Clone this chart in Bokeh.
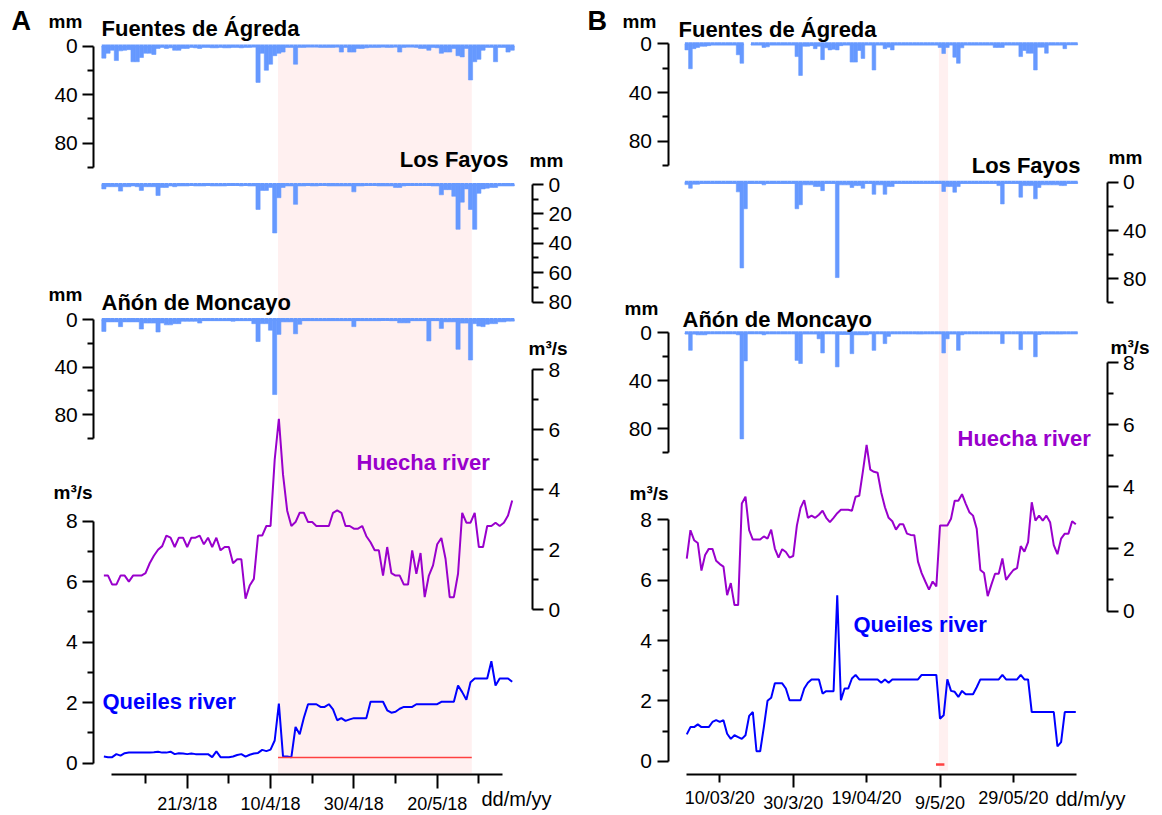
import numpy as np
from bokeh.plotting import figure
from bokeh.models import Range1d, LinearAxis, FixedTicker, Label, Grid
from bokeh.layouts import row
from bokeh.embed import file_html
from bokeh.resources import INLINE

# ---------------- DATA ----------------
# Panel A: daily values from 1 March 2018 (day 0) to 7 June 2018 (day 98)
days_a = list(range(99))
fuentes_a = [10, 6, 3.5, 12, 4, 3.5, 3, 13, 13, 9.5,
             6, 6, 7, 2, 1, 2, 1.5, 3.5, 3.5, 2,
             2, 1, 1.5, 2, 1, 1, 1.5, 1.5, 1, 1.5,
             1.5, 1, 1, 1.5, 1, 1, 0.5, 30, 6, 20,
             15, 8, 6, 5, 1, 1, 15, 1, 1, 0.5,
             0.5, 0.5, 1, 1, 1, 1, 0.5, 5, 1, 5,
             5, 2, 2, 1.5, 1, 1, 1, 0.5, 1, 1,
             0.5, 5, 1, 0.5, 0.5, 1, 2, 2, 3.5, 1,
             1.5, 6, 5, 5, 2, 8, 9, 2, 28, 13,
             11, 3.5, 1, 1, 13, 1, 1, 5, 3.5]
losfayos_a = [3, 1.5, 1.5, 1.5, 4.5, 1.5, 1.5, 1, 1.5, 4,
              1.5, 1.5, 1.5, 7.5, 2, 2, 1, 1.5, 1, 1,
              1, 0.5, 1, 1, 1, 0.5, 1, 1, 1, 1,
              0.5, 0.5, 0.5, 1, 0.5, 1, 1, 17, 4, 4,
              2, 33, 9, 2, 1, 1, 13.5, 1, 1, 0.5,
              1, 1, 0.5, 0.5, 1, 1, 1, 1, 1, 1,
              5, 1, 1, 0.5, 0.5, 0.5, 1, 1, 1, 1,
              2, 2, 1, 0.5, 0.5, 0.5, 0.5, 0.5, 0.5, 1,
              1, 7, 3.5, 3.5, 8, 30.5, 12, 3, 17, 30.5,
              6, 3, 2.5, 2, 2, 1, 1, 1, 1]
anon_a = [10, 2, 2, 2, 6, 2, 2, 2, 2, 8,
          3, 3, 3, 10.5, 3, 4.5, 4.5, 3.5, 3.5, 1.5,
          1.5, 1.5, 1.5, 3, 1, 1, 1, 1, 1, 1,
          1, 1.5, 1, 1, 1, 1, 3.5, 18.5, 3.5, 3.5,
          9, 63, 12.5, 2, 2, 2, 12, 4, 1, 1,
          1, 1, 1, 1, 1, 1, 1, 1, 1, 1,
          6, 1, 1, 1, 1, 1, 1, 0.5, 0.5, 1,
          1, 2.8, 2.8, 2.8, 1, 1, 1, 1, 18, 1,
          1, 7.5, 2, 2, 2, 25, 3, 3, 34, 3.5,
          5.5, 6, 4, 3.5, 3.5, 2, 2, 1.4, 1.4]
huecha_a = [1.14, 1.14, 0.84, 0.84, 1.14, 1.14, 0.94, 1.14, 1.14, 1.14,
            1.22, 1.55, 1.80, 2.00, 2.12, 2.47, 2.40, 2.09, 2.40, 2.40,
            2.09, 2.40, 2.40, 2.47, 2.18, 2.40, 2.09, 2.40, 1.98, 2.09,
            2.09, 1.55, 1.68, 1.68, 0.37, 0.81, 1.03, 2.47, 2.47, 2.79,
            2.79, 5.00, 6.36, 4.50, 3.30, 2.79, 2.92, 3.23, 3.23, 2.92,
            2.92, 2.79, 2.79, 2.79, 2.79, 3.23, 3.31, 3.23, 2.79, 2.79,
            2.70, 2.70, 2.79, 2.45, 2.25, 1.98, 1.98, 1.14, 2.09, 1.22,
            1.14, 1.14, 0.84, 0.84, 1.98, 1.20, 1.89, 0.42, 1.14, 1.48,
            2.18, 2.39, 1.70, 0.42, 0.42, 1.20, 3.23, 2.90, 2.90, 3.23,
            2.09, 2.09, 2.79, 2.79, 2.90, 2.79, 2.90, 3.14, 3.64]
queiles_a = [0.22, 0.20, 0.20, 0.30, 0.25, 0.33, 0.35, 0.35, 0.35, 0.35,
             0.35, 0.35, 0.36, 0.38, 0.35, 0.35, 0.38, 0.30, 0.33, 0.32,
             0.30, 0.32, 0.30, 0.30, 0.30, 0.30, 0.20, 0.39, 0.20, 0.20,
             0.20, 0.22, 0.27, 0.30, 0.22, 0.28, 0.32, 0.34, 0.44, 0.40,
             0.45, 0.75, 1.97, 0.22, 0.22, 0.20, 1.20, 0.96, 1.50, 1.95,
             1.95, 1.95, 1.86, 1.86, 1.95, 1.78, 1.42, 1.49, 1.40, 1.45,
             1.49, 1.49, 1.49, 1.49, 2.03, 2.03, 2.03, 2.03, 1.75, 1.67,
             1.70, 1.80, 1.86, 1.86, 1.86, 1.95, 1.95, 1.95, 1.95, 1.95,
             1.95, 2.03, 2.03, 2.03, 2.03, 2.57, 2.35, 2.10, 2.68, 2.80,
             2.80, 2.80, 2.80, 3.37, 2.57, 2.80, 2.80, 2.80, 2.69]
shade_a = (41.8, 88.3)          # highlighted period (days)
threshold_a = 0.19              # red reference line (m3/s)
xticks_a = [20, 40, 60, 80]
xlabels_a = ["21/3/18", "10/4/18", "30/4/18", "20/5/18"]
xminor_a = [10, 30, 50, 70, 90]

# Panel B: daily values from 1 March 2020 (day 0) to 15 June 2020 (day 106)
nan = float("nan")
days_b = list(range(107))
fuentes_b = [5, 20.5, 4, 3, 2, 2, 1.5, 1, 1, 1,
             1, 1, 1, 1, 9, 16, nan, nan, 1, 1,
             1, 3, 2.5, 1, 1, 1, 1, 1, 1, 1,
             10.5, 26, 2, 2, 1.5, 4, 2, 13, 3.3, 5,
             4.5, 5, 1.5, 1, 1, 15, 15, 5.5, 12, 1,
             1, 21.5, 1, 1, 4, 2.8, 5, 1, 1, 1,
             1, 1, 1, 1, 1, 1, 1, 1, 1, 3,
             8, 3, 1, 11, 16, 3.3, 1, 1, 1, 1,
             1, 1, 1, 1, 3, 3, 3, 1, 1, 1,
             1, 10.5, 5.5, 7.7, 7.7, 21.5, 2.8, 2.8, 7.7, 1,
             1, 1, 1, 4, 0.5, 0.5, 0.5]
losfayos_b = [2, 5, 1.7, 1.7, 1, 1, 1, 1, 1, 1,
              1, 1, 1, 1, 8, 71, 22, 1, 1, 1,
              1, 2.2, 1, 1, 1, 1, 1, 1, 1, 1,
              22, 18.7, 2.2, 2.2, 2.2, 3.6, 3.6, 7, 1, 1,
              1, 79, 2.2, 2.2, 2.2, 4.4, 2.8, 2.8, 5, 1,
              1, 10, 2.2, 2.2, 10, 3.6, 3.6, 1, 1, 1,
              1, 1, 1, 1, 1, 1, 1, 1, 1, 1,
              7.7, 3.6, 3.6, 8.3, 3.6, 1, 1, 1, 1, 1,
              1, 1, 1, 1, 1, 2.8, 18, 1, 1, 1,
              1, 12.4, 2.8, 2.8, 2.8, 13.8, 4.4, 2.2, 2.2, 2.2,
              2.2, 2.2, 2.8, 2.8, 1, 1, 1]
anon_b = [1, 14.6, 1, 1.7, 1.7, 1.7, 0.3, 0.3, 0.3, 0.3,
          0.3, 0.3, 0.3, 0.3, 1.7, 88.4, 23.4, 0.3, 0.3, 0.3,
          0.3, 1.7, 0.3, 0.3, 0.3, 0.3, 0.3, 0.3, 0.3, 0.3,
          23, 25.6, 0.8, 0.8, 0.8, 0.8, 5, 16.8, 0.3, 0.3,
          0.3, 28.4, 1.4, 1.4, 1.4, 17.4, 1.7, 1.7, 1.7, 1.7,
          0.3, 14.6, 0.3, 0.3, 9, 3, 0.3, 0.3, 0.3, 0.3,
          0.3, 0.3, 0.3, 0.8, 0.8, 0.3, 0.3, 0.3, 0.3, 0.3,
          16.8, 5, 0.8, 0.8, 14.6, 1.7, 0.3, 0.3, 0.3, 0.3,
          0.3, 0.3, 0.3, 0.3, 0.3, 0.3, 9, 0.3, 0.3, 0.3,
          0.3, 14, 0.8, 0.8, 0.8, 20, 1.4, 0.8, 0.8, 0.8,
          0.8, 0.8, 0.8, 0.3, 0.3, 0.3, 0.3]
huecha_b = [1.69, 2.60, 2.28, 2.19, 1.30, 1.80, 2.00, 2.00, 1.62, 1.51,
            1.43, 0.51, 0.90, 0.19, 0.19, 3.46, 3.68, 2.60, 2.30, 2.30,
            2.30, 2.40, 2.33, 2.62, 2.01, 1.72, 1.99, 1.90, 1.72, 1.77,
            2.75, 3.32, 3.57, 3.00, 3.07, 3.00, 3.10, 3.23, 3.00, 2.86,
            3.00, 3.15, 3.26, 3.26, 3.26, 3.23, 3.68, 3.71, 4.50, 5.35,
            4.55, 4.48, 4.45, 3.81, 3.34, 3.00, 2.89, 2.62, 2.79, 2.79,
            2.49, 2.45, 2.44, 1.59, 1.22, 0.95, 0.69, 0.95, 0.79, 2.75,
            2.75, 2.75, 2.97, 3.55, 3.55, 3.76, 3.46, 3.18, 3.07, 2.65,
            1.32, 1.22, 0.48, 0.85, 1.20, 1.20, 1.69, 1.00, 1.17, 1.32,
            1.38, 2.09, 1.91, 2.22, 3.50, 2.91, 3.07, 2.91, 3.07, 2.86,
            2.12, 1.83, 2.33, 2.49, 2.49, 2.89, 2.79]
queiles_b = [0.89, 1.13, 1.13, 1.22, 1.13, 1.13, 1.13, 1.30, 1.36, 1.30,
             1.36, 0.91, 0.74, 0.86, 0.80, 0.74, 0.86, 1.50, 1.63, 0.33,
             0.33, 1.13, 2.00, 2.10, 2.58, 2.58, 2.58, 2.41, 2.02, 2.02,
             2.02, 2.02, 2.41, 2.60, 2.71, 2.71, 2.71, 2.24, 2.32, 2.32,
             2.32, 5.50, 2.02, 2.41, 2.41, 2.74, 2.86, 2.71, 2.71, 2.71,
             2.71, 2.71, 2.71, 2.60, 2.71, 2.60, 2.71, 2.71, 2.71, 2.71,
             2.71, 2.71, 2.71, 2.71, 2.86, 2.86, 2.86, 2.86, 2.86, 1.41,
             1.52, 2.71, 2.33, 2.30, 2.13, 2.33, 2.22, 2.22, 2.22, 2.45,
             2.71, 2.71, 2.71, 2.71, 2.71, 2.71, 2.86, 2.71, 2.71, 2.71,
             2.71, 2.86, 2.71, 2.71, 1.63, 1.63, 1.63, 1.63, 1.63, 1.63,
             1.63, 0.49, 0.63, 1.63, 1.63, 1.63, 1.63]
shade_b = (68.7, 71.2)
threshold_b = (67.9, 70.2, -0.11)
xticks_b1 = [9, 49, 89]
xlabels_b1 = ["10/03/20", "19/04/20", "29/05/20"]
xticks_b2 = [29, 69]
xlabels_b2 = ["30/3/20", "9/5/20"]

# ---------------- STYLE / LAYOUT ----------------
FONT = "Liberation Sans"
BAR = "#6699ff"
PURPLE = "#9900cc"
BLUE = "#0000ff"
RED = "#ff4040"
PINK = "#fff0f0"
H = 815
TOP = 0  # reference-pixel y shown at the top of the canvas
BASE_FIX = 0.37  # alphabetic-baseline correction (fraction of font size)


def rng(v0, p0, v1, p1, lo, hi):
    k = (v1 - v0) / (p1 - p0)
    return Range1d(start=v0 + (lo - p0) * k, end=v0 + (hi - p0) * k)


def style_axis(ax, fs="21px", tick=11, minor=6, standoff=5):
    ax.axis_line_width = 2
    ax.axis_line_color = "black"
    ax.major_tick_line_width = 2
    ax.minor_tick_line_width = 2
    ax.major_tick_line_color = "black"
    ax.minor_tick_line_color = "black"
    ax.major_tick_out = tick
    ax.major_tick_in = 0
    ax.minor_tick_out = minor
    ax.minor_tick_in = 0
    ax.major_label_text_font = FONT
    ax.major_label_text_font_size = fs
    ax.major_label_text_color = "black"
    ax.major_label_standoff = standoff


def yaxis(p, name, loc, side, bounds, major, minor):
    ax = LinearAxis(y_range_name=name, fixed_location=loc, bounds=bounds,
                    ticker=FixedTicker(ticks=major, minor_ticks=minor))
    style_axis(ax)
    p.add_layout(ax, side)


def label(p, x, y, text, size=22, color="black", bold=True, align="left"):
    p.add_layout(Label(x=x, y=y - BASE_FIX * size, text=text, text_font=FONT,
                       text_font_size=f"{size}px",
                       text_font_style="bold" if bold else "normal",
                       text_color=color, text_align=align,
                       text_baseline="alphabetic"))


def bars(p, days, vals, name):
    d = np.array(days, dtype=float)
    v = np.array(vals, dtype=float)
    ok = ~np.isnan(v)
    p.vbar(x=d[ok], width=1, top=0, bottom=v[ok], x_range_name="days",
           y_range_name=name, fill_color=BAR, line_color=BAR, line_width=0.6)
    p.segment(x0=d[ok] - 0.5, x1=d[ok] + 0.5, y0=0, y1=0, x_range_name="days",
              y_range_name=name, line_color=BAR, line_width=3)


def panel(cfg, d):
    x0, w = cfg["x0"], cfg["w"]
    p = figure(width=w, height=H, x_range=Range1d(x0, x0 + w),
               y_range=Range1d(TOP + H, TOP), x_axis_location=None,
               y_axis_location=None, toolbar_location=None,
               output_backend="svg", min_border=0, outline_line_color=None,
               background_fill_color="white", border_fill_color="white")
    for r in list(p.center):
        if isinstance(r, Grid):
            r.visible = False
    da, pa, db, pb = cfg["xanchor"]
    p.extra_x_ranges = {"days": rng(da, pa, db, pb, x0, x0 + w)}
    yr = {}
    for k in ("fu", "lf", "an", "hu", "qu"):
        v0, p0, v1, p1 = cfg[k]
        yr[k] = rng(v0, p0, v1, p1, TOP + H, TOP)
    p.extra_y_ranges = yr

    # highlighted period
    s0, s1 = d["shade"]
    p.quad(left=[s0], right=[s1], top=[cfg["shade_top"]], bottom=[cfg["shade_bot"]],
           x_range_name="days", fill_color=PINK, line_color=None, level="underlay")

    # precipitation
    bars(p, d["days"], d["fu"], "fu")
    bars(p, d["days"], d["lf"], "lf")
    bars(p, d["days"], d["an"], "an")

    # discharge
    p.line(d["days"], d["hu"], x_range_name="days", y_range_name="hu",
           line_color=PURPLE, line_width=2)
    p.line(d["days"], d["qu"], x_range_name="days", y_range_name="qu",
           line_color=BLUE, line_width=2)
    t0, t1, tv = d["thr"]
    p.line([t0, t1], [tv, tv], x_range_name="days", y_range_name="qu",
           line_color=RED, line_width=cfg["thr_w"])

    # y axes
    L, R = cfg["left_x"], cfg["right_x"]
    yaxis(p, "fu", L, "left", (0, 100), [0, 40, 80], [20, 60, 100])
    lfb, lfm, lfn = cfg["lf_ticks"]
    yaxis(p, "lf", R, "right", lfb, lfm, lfn)
    yaxis(p, "an", L, "left", (0, 100), [0, 40, 80], [20, 60, 100])
    yaxis(p, "hu", R, "right", (0, 8), [0, 2, 4, 6, 8], [1, 3, 5, 7])
    yaxis(p, "qu", L, "left", (0, 8), [0, 2, 4, 6, 8], [1, 3, 5, 7])

    # x axes
    for ticks, labels, minor, tick_out, line in cfg["xaxes"]:
        ax = LinearAxis(x_range_name="days", fixed_location=cfg["xaxis_y"],
                        bounds=cfg["xbounds"],
                        ticker=FixedTicker(ticks=ticks, minor_ticks=minor),
                        major_label_overrides={t: s for t, s in zip(ticks, labels)})
        style_axis(ax, fs="18px", tick=tick_out, minor=9, standoff=5)
        if not line:
            ax.axis_line_color = None
        p.add_layout(ax, "below")

    for args in cfg["texts"]:
        label(p, *args[:3], **args[3])
    return p


cfg_a = dict(
    x0=0, w=580, xanchor=(20, 186.7, 80, 436.7), left_x=93.3, right_x=532,
    fu=(0, 45.5, 80, 142.5), lf=(0, 184, 80, 301.5), an=(0, 319, 80, 414.3),
    hu=(0, 609.3, 8, 369), qu=(0, 762.7, 8, 520.7),
    lf_ticks=((0, 80), [0, 20, 40, 60, 80], [10, 30, 50, 70]),
    shade_top=45, shade_bot=773, thr_w=1.5,
    xaxis_y=774.3, xbounds=(1.8, 95.6),
    xaxes=[(xticks_a, xlabels_a, xminor_a, 14, True)],
    texts=[
        (11, 30, "A", dict(size=27)),
        (48, 28, "mm", dict(size=19)),
        (101, 36, "Fuentes de Ágreda", dict()),
        (508, 167, "Los Fayos", dict(align="right")),
        (529, 167, "mm", dict(size=19)),
        (48, 301, "mm", dict(size=19)),
        (101, 310, "Añón de Moncayo", dict()),
        (528, 355, "m³/s", dict(size=19)),
        (53, 499, "m³/s", dict(size=19)),
        (356, 470, "Huecha river", dict(size=22, color=PURPLE)),
        (102, 709, "Queiles river", dict(size=22, color=BLUE)),
        (481, 806, "dd/m/yy", dict(size=20, bold=False)),
    ],
)
data_a = dict(days=days_a, fu=fuentes_a, lf=losfayos_a, an=anon_a, hu=huecha_a,
              qu=queiles_a, shade=shade_a,
              thr=(shade_a[0], shade_a[1], threshold_a))

cfg_b = dict(
    x0=580, w=580, xanchor=(9, 719.3, 89, 1012.9), left_x=667.5, right_x=1106.5,
    fu=(0, 43.3, 80, 140.7), lf=(0, 181.7, 80, 278.3), an=(0, 332.3, 80, 428.3),
    hu=(0, 610.5, 8, 362), qu=(0, 760.7, 8, 519.3),
    lf_ticks=((0, 100), [0, 40, 80], [20, 60, 100]),
    shade_top=43, shade_bot=770, thr_w=2.5,
    xaxis_y=774.3, xbounds=(-0.1, 106.1),
    xaxes=[(xticks_b1, xlabels_b1, [], 8, True),
           (xticks_b2, xlabels_b2, [], 13, False)],
    texts=[
        (587, 30, "B", dict(size=27)),
        (622, 28, "mm", dict(size=19)),
        (678, 37, "Fuentes de Ágreda", dict()),
        (1080, 173, "Los Fayos", dict(align="right")),
        (1108, 164, "mm", dict(size=19)),
        (624, 315, "mm", dict(size=19)),
        (682, 327, "Añón de Moncayo", dict()),
        (1110, 354, "m³/s", dict(size=19)),
        (629, 500, "m³/s", dict(size=19)),
        (957, 446, "Huecha river", dict(size=22, color=PURPLE)),
        (853, 632, "Queiles river", dict(size=22, color=BLUE)),
        (1055, 806, "dd/m/yy", dict(size=20, bold=False)),
    ],
)
data_b = dict(days=days_b, fu=fuentes_b, lf=losfayos_b, an=anon_b, hu=huecha_b,
              qu=queiles_b, shade=shade_b, thr=threshold_b)

pa = panel(cfg_a, data_a)
pb = panel(cfg_b, data_b)
layout = row(pa, pb)

open("out.html", "w").write(file_html(layout, INLINE))
